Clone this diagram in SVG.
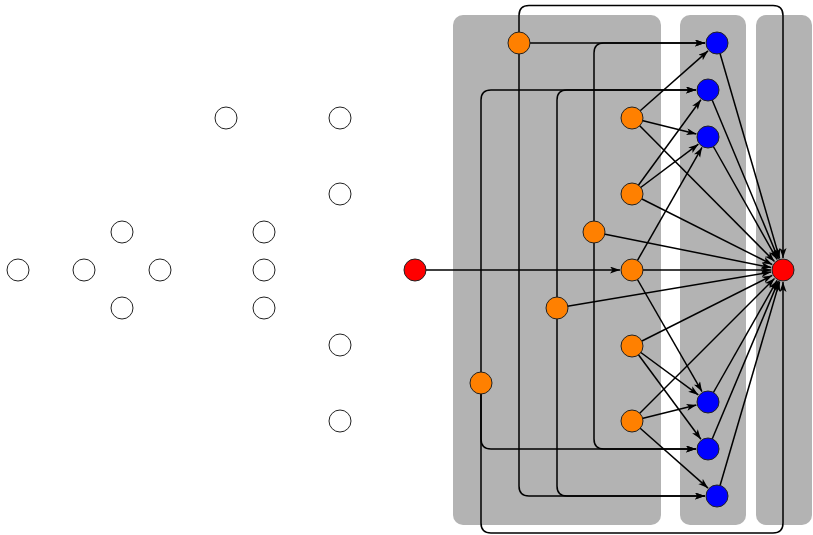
<svg xmlns="http://www.w3.org/2000/svg" width="813" height="535" viewBox="0 0 813 535">
<defs>
<style>
.panel{fill:#b3b3b3;stroke:none}
.e{fill:none;stroke:#000;stroke-width:1.5;marker-end:url(#arr)}
.n{stroke:#222;stroke-width:1}
.w{fill:#fff}
.o{fill:#ff8000}
.b{fill:#0000ff}
.r{fill:#ff0000}
</style>
<marker id="arr" markerUnits="userSpaceOnUse" markerWidth="10" markerHeight="8" refX="10" refY="3.5" orient="auto">
<path d="M0,0 L10,3.5 L0,7 L2.5,3.5 z" fill="#000"/>
</marker>
</defs>
<rect width="813" height="535" fill="#fff"/>
<g id="panels">
<rect class="panel" x="453" y="15" width="208" height="510" rx="10"/>
<rect class="panel" x="680" y="15" width="66" height="510" rx="10"/>
<rect class="panel" x="756" y="15" width="56" height="510" rx="10"/>
</g>
<g id="connectors">
<path class="e" d="M415,270 H620"/>
<path class="e" d="M519,43 H705"/>
<path class="e" d="M594,232 V53 Q594,43 604,43 H705"/>
<path class="e" d="M519,43 V15.5 Q519,5.5 529,5.5 H773 Q783,5.5 783,15.5 V258"/>
<path class="e" d="M519,43 V486 Q519,496 529,496 H705"/>
<path class="e" d="M557,308 V486 Q557,496 567,496 H705"/>
<path class="e" d="M557,308 V100 Q557,90 567,90 H696"/>
<path class="e" d="M481,383 V100 Q481,90 491,90 H696"/>
<path class="e" d="M481,383 V439 Q481,449 491,449 H696"/>
<path class="e" d="M594,232 V439 Q594,449 604,449 H696"/>
<path class="e" d="M481,383 V523 Q481,533 491,533 H773 Q783,533 783,523 V282"/>
<path class="e" d="M632,118 L708,50.9"/>
<path class="e" d="M632,118 L696.4,134.1"/>
<path class="e" d="M632,118 L774.5,261.5"/>
<path class="e" d="M632,194 L700.9,99.7"/>
<path class="e" d="M632,194 L698.4,144.2"/>
<path class="e" d="M632,194 L772.3,264.6"/>
<path class="e" d="M594,232 L771.2,267.6"/>
<path class="e" d="M632,270 L702,147.4"/>
<path class="e" d="M632,270 L702,391.6"/>
<path class="e" d="M632,270 L771,270"/>
<path class="e" d="M557,308 L771.2,272"/>
<path class="e" d="M632,346 L698.3,394.9"/>
<path class="e" d="M632,346 L700.9,439.3"/>
<path class="e" d="M632,346 L772.3,275.4"/>
<path class="e" d="M632,421 L696.4,404.9"/>
<path class="e" d="M632,421 L708,488.1"/>
<path class="e" d="M632,421 L774.5,278.5"/>
<path class="e" d="M717,43 L779.6,258.5"/>
<path class="e" d="M708,90 L778.4,258.9"/>
<path class="e" d="M708,137 L777.1,259.5"/>
<path class="e" d="M708,402 L777.1,280.4"/>
<path class="e" d="M708,449 L778.4,281.1"/>
<path class="e" d="M717,496 L779.6,281.5"/>
</g>
<g id="w1"><circle class="n w" cx="18" cy="270" r="11"/></g>
<g id="w2"><circle class="n w" cx="84" cy="270" r="11"/></g>
<g id="w3"><circle class="n w" cx="122" cy="232" r="11"/></g>
<g id="w4"><circle class="n w" cx="160" cy="270" r="11"/></g>
<g id="w5"><circle class="n w" cx="122" cy="308" r="11"/></g>
<g id="w6"><circle class="n w" cx="226" cy="118" r="11"/></g>
<g id="w7"><circle class="n w" cx="264" cy="232" r="11"/></g>
<g id="w8"><circle class="n w" cx="264" cy="270" r="11"/></g>
<g id="w9"><circle class="n w" cx="264" cy="308" r="11"/></g>
<g id="w10"><circle class="n w" cx="340" cy="118" r="11"/></g>
<g id="w11"><circle class="n w" cx="340" cy="194" r="11"/></g>
<g id="w12"><circle class="n w" cx="340" cy="345" r="11"/></g>
<g id="w13"><circle class="n w" cx="340" cy="421" r="11"/></g>
<g id="src"><circle class="n r" cx="415" cy="270" r="11"/></g>
<g id="oA"><circle class="n o" cx="519" cy="43" r="11"/></g>
<g id="oB"><circle class="n o" cx="632" cy="118" r="11"/></g>
<g id="oC"><circle class="n o" cx="632" cy="194" r="11"/></g>
<g id="oD"><circle class="n o" cx="594" cy="232" r="11"/></g>
<g id="oE"><circle class="n o" cx="632" cy="270" r="11"/></g>
<g id="oF"><circle class="n o" cx="557" cy="308" r="11"/></g>
<g id="oG"><circle class="n o" cx="632" cy="346" r="11"/></g>
<g id="oH"><circle class="n o" cx="632" cy="421" r="11"/></g>
<g id="oI"><circle class="n o" cx="481" cy="383" r="11"/></g>
<g id="b1"><circle class="n b" cx="717" cy="43" r="11"/></g>
<g id="b2"><circle class="n b" cx="708" cy="90" r="11"/></g>
<g id="b3"><circle class="n b" cx="708" cy="137" r="11"/></g>
<g id="b4"><circle class="n b" cx="708" cy="402" r="11"/></g>
<g id="b5"><circle class="n b" cx="708" cy="449" r="11"/></g>
<g id="b6"><circle class="n b" cx="717" cy="496" r="11"/></g>
<g id="sink"><circle class="n r" cx="783" cy="270" r="11"/></g>
</svg>
